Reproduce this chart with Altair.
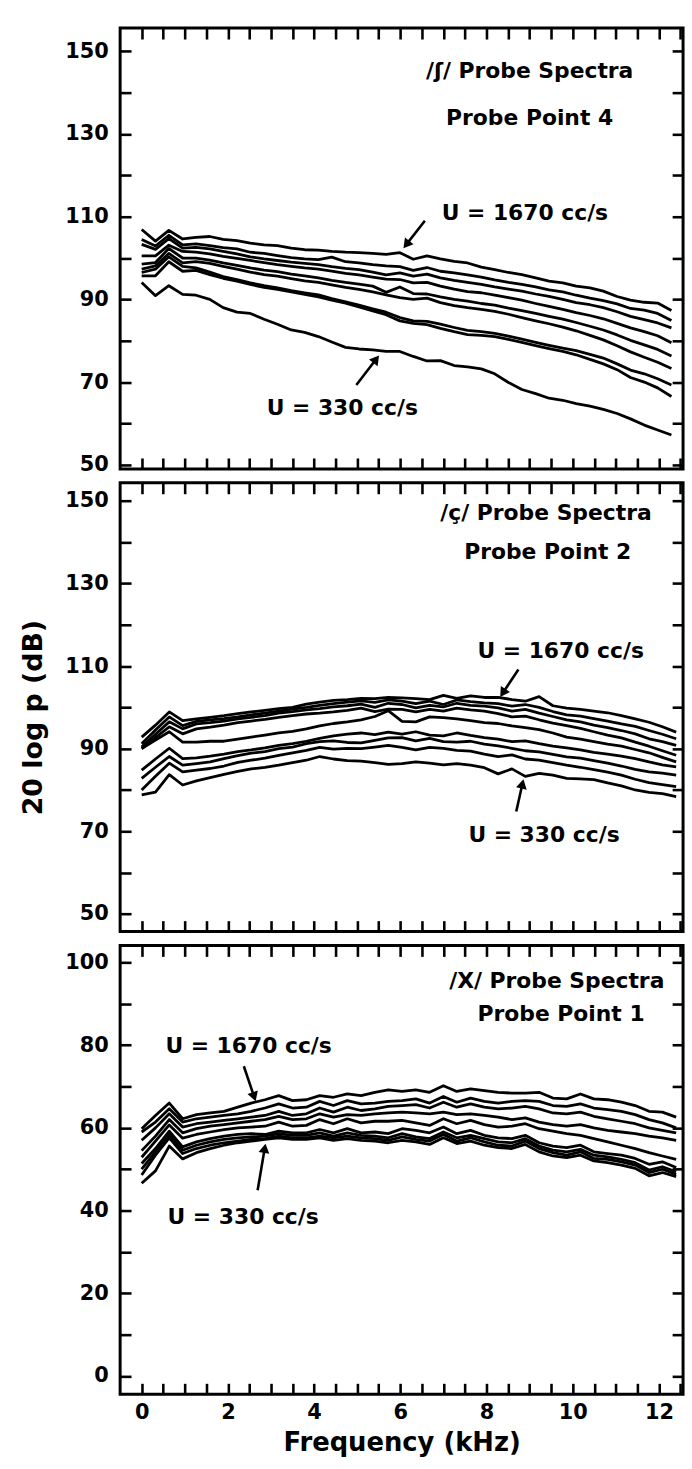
import math
import altair as alt
import pandas as pd

# ---------------- data ----------------
FREQ_TOP = [0, 0.32, 0.63, 0.95, 1.26, 1.58, 1.89, 2.21, 2.52, 2.84,
            3.15, 3.47, 3.78, 4.10, 4.41, 4.73, 5.04, 5.36, 5.67, 5.99,
            6.30, 6.62, 6.93, 7.25, 7.56, 7.88, 8.19, 8.51, 8.82, 9.14,
            9.45, 9.77, 10.08, 10.40, 10.71, 11.03, 11.34, 11.66, 11.97, 12.29]
FREQ_LOW = [0, 0.32, 0.64, 0.95, 1.27, 1.59, 1.91, 2.23, 2.54, 2.86,
            3.18, 3.50, 3.82, 4.13, 4.45, 4.77, 5.09, 5.41, 5.72, 6.04,
            6.36, 6.68, 7.00, 7.31, 7.63, 7.95, 8.27, 8.59, 8.90, 9.22,
            9.54, 9.86, 10.18, 10.49, 10.81, 11.13, 11.45, 11.77, 12.08, 12.40]

FLOWS = [1670, 1500, 1330, 1170, 1000, 830, 670, 500, 330]

# /ʃ/ probe point 4
TOP_1670 = [106.9, 104.1, 106.7, 104.6, 105.0, 105.2, 104.5, 104.2, 103.6, 103.2,
            103.0, 102.4, 102.0, 101.9, 101.6, 101.4, 101.3, 101.1, 100.9, 101.3,
            99.7, 100.5, 99.8, 99.2, 98.8, 97.8, 97.2, 96.5, 96.0, 95.2,
            94.4, 94.0, 93.2, 92.8, 92.0, 90.7, 89.8, 89.3, 89.1, 87.3]
TOP_1500 = [104.5, 102.9, 105.5, 103.2, 103.4, 103.0, 102.5, 102.2, 101.4, 101.1,
            100.6, 100.1, 99.8, 99.6, 100.2, 99.1, 98.8, 98.4, 98.1, 97.9,
            97.0, 97.7, 96.8, 96.4, 95.9, 95.4, 94.7, 94.1, 93.6, 93.0,
            92.3, 91.8, 91.0, 90.3, 89.7, 88.9, 87.8, 87.4, 86.6, 84.9]
TOP_1330 = [103.3, 102.1, 104.7, 102.4, 102.6, 102.2, 101.6, 101.0, 100.3, 99.8,
            99.4, 99.0, 98.7, 98.4, 97.9, 97.5, 97.2, 96.6, 95.9, 96.4,
            95.6, 96.1, 95.2, 94.6, 94.1, 93.6, 93.0, 92.5, 92.0, 91.3,
            90.7, 90.0, 89.2, 88.7, 88.0, 87.0, 85.9, 85.1, 84.3, 83.1]
TOP_1170 = [100.5, 100.5, 103.1, 101.6, 101.4, 101.0, 100.4, 99.9, 99.4, 98.9,
            98.4, 98.0, 97.6, 97.3, 96.8, 96.3, 95.9, 95.4, 94.9, 94.8,
            94.0, 94.1, 93.2, 92.5, 91.9, 91.6, 91.0, 90.4, 89.8, 89.0,
            88.3, 87.6, 86.8, 86.1, 85.3, 84.2, 83.1, 82.2, 81.2, 79.5]
TOP_1000 = [98.5, 98.9, 102.3, 100.0, 100.0, 99.5, 98.8, 98.2, 97.6, 97.1,
            96.7, 96.1, 95.7, 95.2, 94.6, 94.1, 93.7, 93.2, 91.7, 93.0,
            91.4, 91.3, 90.6, 90.0, 89.6, 89.0, 88.6, 87.9, 87.3, 86.6,
            85.9, 85.2, 84.4, 83.5, 82.6, 81.4, 80.1, 79.0, 77.9, 76.3]
TOP_830 = [97.3, 98.1, 101.1, 98.8, 99.1, 98.7, 98.0, 97.3, 96.6, 96.0,
           95.6, 95.0, 94.5, 94.1, 93.5, 92.9, 92.4, 91.8, 91.1, 90.4,
           90.0, 90.3, 89.2, 88.5, 88.0, 87.6, 87.1, 86.4, 85.6, 84.8,
           84.1, 83.3, 82.4, 81.3, 80.2, 78.8, 77.3, 76.0, 74.8, 73.3]
TOP_670 = [96.5, 97.3, 100.3, 98.0, 97.6, 96.6, 95.5, 94.8, 94.0, 93.3,
           92.8, 92.1, 91.6, 91.1, 90.2, 89.4, 88.6, 87.7, 86.9, 85.6,
           84.8, 84.7, 84.0, 83.2, 82.5, 82.2, 81.8, 81.1, 80.4, 79.6,
           78.9, 78.2, 77.6, 76.7, 75.8, 74.4, 72.9, 72.0, 70.8, 69.3]
TOP_500 = [95.7, 95.7, 99.1, 96.8, 97.0, 96.0, 95.1, 94.4, 93.6, 92.9,
           92.4, 91.8, 91.2, 90.6, 89.8, 89.1, 88.2, 87.2, 86.3, 84.8,
           84.2, 83.9, 83.0, 82.2, 81.5, 81.3, 81.0, 80.3, 79.6, 78.8,
           78.1, 77.4, 76.6, 75.5, 74.4, 73.0, 71.1, 70.0, 68.6, 66.5]
TOP_330 = [94.1, 90.9, 93.3, 91.2, 91.0, 90.0, 88.0, 86.9, 86.6, 85.2,
           84.0, 82.6, 82.0, 81.0, 79.7, 78.4, 78.0, 77.8, 77.4, 77.4,
           76.2, 75.1, 75.2, 74.0, 73.7, 73.2, 72.0, 69.9, 68.2, 67.2,
           66.1, 65.6, 64.8, 64.2, 63.4, 62.4, 61.1, 59.6, 58.4, 57.2]

# /ç/ probe point 2
MID_1670 = [92.8, 95.7, 98.9, 96.8, 97.2, 97.6, 98.0, 98.5, 98.9, 99.3,
            99.7, 100.0, 100.8, 101.3, 101.7, 101.9, 102.2, 102.1, 102.4, 102.3,
            102.1, 101.9, 102.9, 102.2, 102.8, 102.4, 102.4, 101.9, 101.5, 102.6,
            100.4, 99.8, 99.5, 99.1, 98.7, 98.0, 97.2, 96.4, 95.3, 94.0]
MID_1500 = [91.2, 94.5, 97.7, 95.6, 96.6, 97.0, 97.3, 97.7, 98.2, 98.6,
            99.1, 99.6, 100.0, 100.5, 100.9, 101.3, 101.6, 101.2, 101.8, 101.5,
            100.9, 101.5, 100.7, 101.8, 101.4, 101.1, 100.9, 100.3, 100.7, 100.0,
            99.0, 98.2, 97.9, 97.3, 96.7, 96.0, 95.4, 94.4, 93.5, 92.4]
MID_1330 = [90.4, 93.5, 96.5, 94.8, 96.0, 96.3, 96.7, 97.2, 97.6, 98.0,
            98.6, 99.0, 99.4, 99.7, 100.1, 100.4, 100.8, 100.0, 101.0, 100.7,
            99.9, 100.5, 100.1, 101.0, 100.5, 100.3, 99.9, 99.1, 99.5, 98.6,
            97.8, 97.0, 96.5, 95.7, 95.1, 94.4, 93.6, 92.4, 91.7, 90.8]
MID_1170 = [90.0, 92.7, 95.3, 93.6, 94.8, 95.2, 95.7, 96.3, 96.7, 97.1,
            97.6, 98.0, 98.4, 98.6, 98.9, 99.3, 99.8, 99.0, 99.6, 99.5,
            98.9, 99.5, 99.1, 99.8, 99.4, 99.1, 98.5, 97.7, 97.9, 97.0,
            96.2, 95.6, 94.9, 94.1, 93.3, 92.6, 91.6, 90.6, 89.5, 88.4]
MID_1000 = [90.0, 92.1, 94.1, 91.6, 91.6, 91.8, 91.8, 92.3, 92.8, 93.3,
            93.8, 94.2, 94.8, 95.5, 96.1, 96.5, 97.0, 97.8, 99.2, 96.6,
            96.5, 97.7, 97.5, 97.2, 96.8, 96.3, 96.1, 95.5, 95.1, 94.6,
            93.8, 92.8, 92.3, 91.7, 91.1, 90.6, 89.8, 89.0, 87.9, 86.8]
MID_830 = [84.8, 87.5, 90.1, 87.6, 87.8, 88.2, 88.7, 89.3, 89.7, 90.2,
           90.8, 91.2, 91.8, 92.5, 93.1, 93.5, 93.8, 93.4, 94.0, 93.5,
           94.1, 93.3, 93.1, 93.8, 93.2, 92.7, 92.3, 91.7, 91.9, 91.2,
           90.6, 90.2, 89.7, 89.1, 88.7, 88.2, 87.6, 86.8, 86.1, 85.6]
MID_670 = [82.8, 85.5, 88.1, 86.0, 86.4, 86.8, 87.6, 88.3, 88.9, 89.3,
           90.0, 90.4, 91.2, 91.7, 91.9, 91.5, 91.4, 92.0, 92.6, 92.7,
           91.9, 92.5, 91.7, 91.6, 91.8, 91.1, 90.7, 90.1, 89.5, 89.2,
           88.6, 88.0, 87.7, 87.1, 86.5, 85.8, 85.0, 84.4, 84.1, 83.6]
MID_500 = [80.0, 83.3, 86.5, 84.4, 84.8, 85.2, 85.8, 86.7, 87.2, 87.7,
           88.4, 89.0, 89.6, 90.3, 89.9, 90.1, 90.0, 90.4, 90.8, 90.3,
           89.7, 90.3, 90.1, 89.6, 89.4, 88.7, 88.1, 88.5, 87.5, 87.2,
           86.6, 86.0, 85.5, 84.9, 84.3, 83.6, 82.6, 81.8, 81.3, 80.8]
MID_330 = [78.8, 79.5, 83.7, 81.2, 82.2, 83.0, 83.8, 84.5, 85.1, 85.5,
           86.0, 86.6, 87.2, 88.1, 87.5, 87.1, 87.0, 86.6, 86.2, 86.4,
           86.8, 86.5, 86.1, 86.4, 86.0, 85.4, 83.9, 85.1, 83.3, 84.0,
           83.6, 82.8, 82.7, 82.5, 81.7, 81.0, 80.0, 79.4, 79.1, 78.4]

# /x/ probe point 1
BOT_1670 = [59.8, 63.0, 66.0, 62.2, 63.2, 63.6, 64.0, 65.0, 66.0, 66.8,
            67.8, 66.6, 66.8, 67.8, 67.4, 68.2, 67.8, 68.6, 69.2, 68.8,
            69.2, 68.6, 70.2, 68.8, 69.4, 69.0, 68.6, 68.4, 68.4, 68.6,
            67.2, 67.0, 68.2, 67.0, 66.8, 66.2, 65.4, 64.0, 63.8, 62.6]
BOT_1500 = [59.0, 61.4, 64.6, 61.4, 62.2, 62.6, 63.0, 63.4, 64.0, 64.8,
            65.8, 64.8, 65.0, 66.4, 65.4, 66.6, 65.8, 66.0, 66.4, 66.6,
            67.0, 66.0, 67.6, 66.2, 67.2, 66.4, 66.0, 66.4, 66.6, 66.4,
            65.4, 65.2, 65.8, 64.8, 64.4, 64.0, 63.2, 62.0, 61.2, 60.0]
BOT_1330 = [57.0, 60.0, 63.4, 60.2, 61.0, 61.4, 61.8, 62.2, 62.6, 63.0,
            64.0, 63.0, 63.4, 64.8, 63.8, 65.0, 64.2, 64.6, 65.2, 65.4,
            65.6, 64.8, 66.2, 65.0, 65.8, 65.0, 64.6, 64.8, 65.2, 64.6,
            63.6, 63.4, 63.8, 62.8, 62.2, 61.6, 61.0, 60.0, 59.4, 58.8]
BOT_1170 = [54.5, 58.0, 62.0, 58.8, 59.8, 60.4, 60.8, 61.2, 61.6, 62.0,
            62.8, 62.0, 62.2, 63.4, 62.6, 63.2, 63.0, 63.4, 63.6, 63.8,
            63.6, 63.4, 63.8, 63.2, 63.4, 63.0, 62.6, 62.0, 62.4, 61.4,
            60.8, 60.4, 60.8, 60.0, 59.4, 59.0, 58.6, 58.0, 57.6, 57.0]
BOT_1000 = [52.9, 56.8, 60.7, 57.5, 58.4, 59.0, 59.6, 60.0, 60.2, 60.4,
            61.4, 60.4, 60.6, 62.0, 61.0, 62.2, 61.2, 61.6, 61.6, 61.8,
            61.2, 60.6, 62.2, 61.0, 61.8, 60.8, 60.2, 60.4, 61.0, 59.8,
            59.2, 58.6, 58.2, 57.4, 56.6, 55.8, 55.0, 54.0, 53.2, 52.4]
BOT_830 = [51.4, 55.0, 59.2, 55.4, 56.6, 57.4, 58.0, 58.4, 58.6, 58.4,
           59.2, 58.8, 58.8, 59.6, 58.8, 59.8, 58.8, 59.0, 58.6, 59.8,
           59.4, 58.8, 60.2, 58.6, 59.4, 58.2, 57.6, 57.4, 58.2, 56.4,
           55.6, 55.2, 55.8, 54.2, 53.8, 53.4, 52.6, 51.2, 51.8, 50.4]
BOT_670 = [50.0, 54.2, 58.4, 54.6, 55.8, 56.6, 57.2, 57.6, 57.8, 58.0,
           58.6, 58.2, 58.2, 58.8, 58.0, 58.8, 58.2, 58.0, 57.6, 58.6,
           57.8, 57.4, 59.0, 57.6, 58.2, 57.4, 56.6, 56.4, 57.4, 55.6,
           54.6, 54.2, 54.8, 53.4, 53.0, 52.4, 51.6, 49.8, 50.6, 49.4]
BOT_500 = [48.6, 53.4, 57.6, 53.8, 55.0, 55.8, 56.4, 56.8, 57.2, 57.4,
           58.0, 57.6, 57.6, 58.0, 57.6, 58.0, 57.6, 57.4, 57.0, 57.8,
           57.2, 56.8, 58.4, 56.8, 57.6, 56.6, 55.8, 55.6, 56.8, 55.0,
           54.0, 53.4, 54.2, 52.6, 52.4, 51.8, 51.0, 49.2, 50.0, 48.8]
BOT_330 = [46.6, 49.6, 55.6, 52.5, 54.0, 55.0, 55.8, 56.4, 56.8, 57.2,
           57.6, 57.2, 57.2, 57.6, 57.0, 57.4, 57.0, 56.8, 56.4, 57.0,
           56.6, 56.0, 57.6, 56.2, 56.8, 55.8, 55.2, 55.0, 56.0, 54.2,
           53.2, 52.8, 53.4, 52.0, 51.6, 51.0, 50.2, 48.4, 49.2, 48.2]

# tick values / labels
X_TICKS = [0, 0.5, 1, 1.5, 2, 2.5, 3, 3.5, 4, 4.5, 5, 5.5, 6, 6.5, 7, 7.5,
           8, 8.5, 9, 9.5, 10, 10.5, 11, 11.5, 12, 12.5]
DB_TICKS = [50, 60, 70, 80, 90, 100, 110, 120, 130, 140, 150]
BOT_TICKS = [0, 10, 20, 30, 40, 50, 60, 70, 80, 90, 100]

# annotation texts (label, kHz, value)
TOP_CENTER_TEXT = [("/ʃ/ Probe Spectra", 9.0, 143.6), ("Probe Point 4", 9.0, 132.1)]
TOP_LEFT_TEXT = [("U = 1670 cc/s", 6.96, 109.3), ("U = 330 cc/s", 2.9, 62.1)]
TOP_ARROWS = [((6.57, 109.0), (6.12, 103.0)), ((4.98, 69.3), (5.46, 75.8))]

MID_CENTER_TEXT = [("/ç/ Probe Spectra", 9.38, 145.5), ("Probe Point 2", 9.42, 135.9)]
MID_LEFT_TEXT = [("U = 1670 cc/s", 7.79, 111.9), ("U = 330 cc/s", 7.58, 67.5)]
MID_ARROWS = [((8.74, 109.2), (8.36, 103.2)), ((8.69, 74.8), (8.84, 81.8))]

BOT_CENTER_TEXT = [("/X/ Probe Spectra", 9.63, 93.9), ("Probe Point 1", 9.73, 85.8)]
BOT_LEFT_TEXT = [("U = 1670 cc/s", 0.55, 78.1), ("U = 330 cc/s", 0.6, 36.8)]
BOT_ARROWS = [((2.37, 74.9), (2.62, 67.2)), ((2.69, 44.9), (2.86, 55.4))]

# ---------------- layout ----------------
FONT = "DejaVu Sans"
PLOT_W = 567
X_DOMAIN = [-0.5, 12.56]
TOP_H, MID_H, BOT_H = 444, 452, 452
TOP_DOMAIN = [49.0, 155.6]
MID_DOMAIN = [45.7, 154.4]
BOT_DOMAIN = [-4.4, 104.1]
TICK = 11
LINE_W = 2.8


def lines_df(freq, series):
    rows = []
    for u, vals in zip(FLOWS, series):
        for f, v in zip(freq, vals):
            rows.append({"f": f, "v": v, "U": u})
    return pd.DataFrame(rows)


def left_axis(values, expr, title_kw=None):
    kw = dict(orient="left", values=values, offset=-TICK, tickSize=TICK, tickWidth=2.6,
              tickColor="black", domain=False, grid=False, labelExpr=expr,
              labelFont=FONT, labelFontSize=21, labelFontWeight="bold",
              labelColor="black", labelPadding=12, labelOverlap=False)
    if title_kw:
        kw.update(title_kw)
    else:
        kw["title"] = None
    return alt.Axis(**kw)


def right_axis(values):
    return alt.Axis(orient="right", values=values, offset=-TICK, tickSize=TICK, tickWidth=2.6,
                    tickColor="black", domain=False, grid=False, labels=False, title=None)


def top_axis():
    return alt.Axis(orient="top", values=X_TICKS, offset=-TICK, tickSize=TICK, tickWidth=2.6,
                    tickColor="black", domain=False, grid=False, labels=False, title=None)


def bottom_axis(show):
    kw = dict(orient="bottom", values=X_TICKS, offset=-TICK, tickSize=TICK, tickWidth=2.6,
              tickColor="black", domain=False, grid=False)
    if show:
        kw.update(labels=True, labelExpr="datum.value % 2 == 0 ? format(datum.value, 'd') : ''",
                  labelFont=FONT, labelFontSize=21, labelFontWeight="bold", labelColor="black",
                  labelPadding=7, labelOverlap=False, title="Frequency (kHz)", titleFont=FONT,
                  titleFontSize=26, titleFontWeight="bold", titleColor="black", titlePadding=8)
    else:
        kw.update(labels=False, title=None)
    return alt.Axis(**kw)


def panel(freq, series, ydomain, height, yticks, yexpr, ctexts, ltexts, arrows,
          show_x, ytitle=None):
    xs = alt.Scale(domain=X_DOMAIN, nice=False, zero=False)
    ys = alt.Scale(domain=ydomain, nice=False, zero=False)
    df = lines_df(freq, series)
    base = alt.Chart(df)
    lines = base.mark_line(color="black", strokeWidth=LINE_W, strokeJoin="round").encode(
        x=alt.X("f:Q", scale=xs, axis=bottom_axis(show_x)),
        y=alt.Y("v:Q", scale=ys, axis=left_axis(yticks, yexpr, ytitle)),
        detail="U:N",
    )
    ghost = base.mark_line(opacity=0).encode(
        x=alt.X("f:Q", scale=xs, axis=top_axis()),
        y=alt.Y("v:Q", scale=ys, axis=right_axis(yticks)),
        detail="U:N",
    )
    cdf = pd.DataFrame([{"label": t, "f": f, "v": v} for t, f, v in ctexts])
    ldf = pd.DataFrame([{"label": t, "f": f, "v": v} for t, f, v in ltexts])
    tx = dict(font=FONT, fontSize=22, fontWeight="bold", color="black", baseline="alphabetic")
    enc = dict(x=alt.X("f:Q", scale=xs, axis=None), y=alt.Y("v:Q", scale=ys, axis=None),
               text="label:N")
    ctext = alt.Chart(cdf).mark_text(align="center", **tx).encode(**enc)
    ltext = alt.Chart(ldf).mark_text(align="left", **tx).encode(**enc)

    pxf = PLOT_W / (X_DOMAIN[1] - X_DOMAIN[0])
    pxv = height / (ydomain[1] - ydomain[0])
    arows, hrows = [], []
    for i, ((ft, vt), (fh, vh)) in enumerate(arrows):
        arows.append({"id": i, "f": ft, "v": vt})
        arows.append({"id": i, "f": fh, "v": vh})
        dx = (fh - ft) * pxf
        dy = -(vh - vt) * pxv
        ln = math.hypot(dx, dy)
        ux, uy = dx / ln, dy / ln
        ang = math.degrees(math.atan2(ux, -uy)) % 360
        hrows.append({"f": fh - 3 * ux / pxf, "v": vh + 3 * uy / pxv, "ang": ang})
    adf = pd.DataFrame(arows)
    hdf = pd.DataFrame(hrows)
    arrow_lines = alt.Chart(adf).mark_line(color="black", strokeWidth=2.6).encode(
        x=alt.X("f:Q", scale=xs, axis=None), y=alt.Y("v:Q", scale=ys, axis=None), detail="id:N")
    heads = alt.Chart(hdf).mark_point(shape="triangle", filled=True, size=120, color="black",
                                      opacity=1).encode(
        x=alt.X("f:Q", scale=xs, axis=None), y=alt.Y("v:Q", scale=ys, axis=None),
        angle=alt.Angle("ang:Q", scale=None))
    return alt.layer(lines, ghost, ctext, ltext, arrow_lines, heads).properties(
        width=PLOT_W, height=height)


DB_EXPR = "datum.value % 20 == 10 ? format(datum.value, 'd') : ''"
BOT_EXPR = "datum.value % 20 == 0 ? format(datum.value, 'd') : ''"

top = panel(FREQ_TOP,
            [TOP_1670, TOP_1500, TOP_1330, TOP_1170, TOP_1000, TOP_830, TOP_670, TOP_500, TOP_330],
            TOP_DOMAIN, TOP_H, DB_TICKS, DB_EXPR, TOP_CENTER_TEXT, TOP_LEFT_TEXT, TOP_ARROWS, False)
mid = panel(FREQ_LOW,
            [MID_1670, MID_1500, MID_1330, MID_1170, MID_1000, MID_830, MID_670, MID_500, MID_330],
            MID_DOMAIN, MID_H, DB_TICKS, DB_EXPR, MID_CENTER_TEXT, MID_LEFT_TEXT, MID_ARROWS, False,
            ytitle=dict(title="20 log p (dB)", titleFont=FONT, titleFontSize=27,
                        titleFontWeight="bold", titleColor="black", titleX=-84, titleY=236))
bot = panel(FREQ_LOW,
            [BOT_1670, BOT_1500, BOT_1330, BOT_1170, BOT_1000, BOT_830, BOT_670, BOT_500, BOT_330],
            BOT_DOMAIN, BOT_H, BOT_TICKS, BOT_EXPR, BOT_CENTER_TEXT, BOT_LEFT_TEXT, BOT_ARROWS, True)

chart = alt.vconcat(top, mid, bot, spacing=14, bounds="flush").properties(
    padding={"left": 18, "right": 6, "top": 20, "bottom": 4}
).configure_view(stroke="black", strokeWidth=3)

chart.save("out.html", embed_options={"renderer": "svg", "actions": False})
